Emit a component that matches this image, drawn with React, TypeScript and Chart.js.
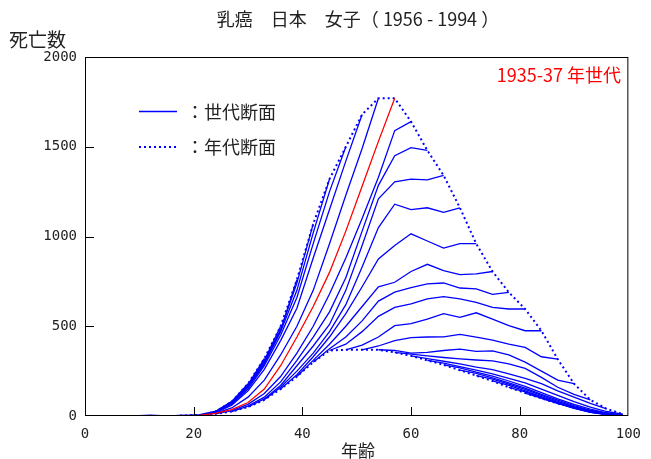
import React, { useEffect, useRef } from "react";
import { Chart, registerables } from "chart.js";

Chart.register(...registerables);

// ---------- text ----------
const TITLE = "乳癌　日本　女子（ 1956 - 1994 ）";
const Y_LABEL = "死亡数";
const X_LABEL = "年齢";
const COHORT_LABEL = "1935-37 年世代";
const LEGEND_SOLID = "：世代断面";
const LEGEND_DOTTED = "：年代断面";

// ---------- axes ----------
const X_TICKS = [0, 20, 40, 60, 80, 100];
const Y_TICKS = [0, 500, 1000, 1500, 2000];
const AGE_STEP = 3; // age groups every 3 years, periods every 3 years
const FIRST_PERIOD = 1956;
const HIGHLIGHT_COHORT = 1935;

// ---------- period cross-sections (ages 0,3,...,99) ----------
const period1956 = [0, 0, 0, 0, 0, 0, 1, 4, 12, 25, 50, 90, 150, 220, 300, 365, 369, 369, 369, 355, 335, 310, 285, 255, 225, 195, 160, 128, 98, 70, 48, 28, 12, 3];
const period1994 = [0, 0, 0, 0, 0, 0, 1, 5, 25, 80, 180, 320, 500, 760, 1070, 1320, 1500, 1680, 1770, 1770, 1640, 1480, 1340, 1160, 960, 805, 689, 596, 475, 317, 180, 90, 40, 10];

// ---------- cohort cross-sections: values from age (1956 - birth) every 3 years ----------
const born1968 = [0, 0, 0, 0, 0, 0, 0, 0, 0, 0, 1, 5, 25];
const born1965 = [0, 0, 0, 0, 0, 0, 0, 0, 0, 1, 5, 25, 80];
const born1962 = [0, 0, 0, 0, 0, 0, 0, 0, 1, 5, 24, 80, 180];
const born1959 = [0, 0, 0, 0, 0, 0, 0, 1, 4, 23, 78, 175, 320];
const born1956 = [0, 0, 0, 0, 0, 0, 2, 4, 22, 75, 170, 310, 500];
const born1953 = [0, 0, 0, 0, 0, 2, 4, 22, 75, 165, 300, 480, 760];
const born1950 = [0, 0, 0, 0, 2, 4, 22, 75, 165, 300, 480, 740, 1070];
const born1947 = [0, 5, 0, 2, 4, 20, 70, 160, 290, 470, 700, 1020, 1320];
const born1944 = [0, 0, 3, 4, 20, 65, 150, 280, 450, 660, 960, 1250, 1500];
const born1941 = [0, 3, 4, 18, 60, 140, 260, 420, 600, 880, 1150, 1420, 1680];
const born1938 = [2, 4, 15, 45, 105, 200, 340, 500, 700, 960, 1230, 1490, 1770];
const born1935 = [4, 15, 35, 75, 150, 280, 440, 610, 800, 1030, 1280, 1530, 1770];
const born1932 = [12, 30, 65, 125, 220, 350, 500, 680, 880, 1100, 1330, 1590, 1640];
const born1929 = [25, 55, 105, 190, 310, 440, 580, 770, 1030, 1285, 1450, 1495, 1480];
const born1926 = [50, 95, 170, 280, 390, 510, 700, 950, 1210, 1305, 1320, 1315, 1340];
const born1923 = [90, 160, 250, 350, 470, 620, 830, 1050, 1180, 1150, 1160, 1135, 1160];
const born1920 = [150, 230, 330, 440, 570, 720, 875, 950, 1015, 975, 935, 960, 960];
const born1917 = [220, 310, 400, 500, 610, 720, 745, 805, 845, 810, 788, 792, 805];
const born1914 = [300, 375, 440, 530, 640, 690, 715, 736, 741, 713, 708, 678, 689];
const born1911 = [365, 400, 470, 555, 605, 624, 652, 665, 652, 633, 605, 596, 596];
const born1908 = [369, 395, 440, 503, 515, 540, 570, 550, 575, 540, 503, 475, 475];
const born1905 = [369, 390, 420, 437, 440, 441, 455, 440, 423, 400, 382, 330, 317];
const born1902 = [369, 365, 350, 354, 365, 372, 360, 363, 340, 300, 250, 200, 180];
const born1899 = [355, 345, 335, 326, 318, 312, 307, 290, 265, 215, 160, 121, 90];
const born1896 = [335, 320, 305, 290, 272, 258, 235, 210, 180, 140, 105, 70, 40];
const born1893 = [310, 295, 275, 255, 235, 210, 185, 150, 115, 80, 50, 25, 10];
const born1890 = [285, 268, 245, 222, 195, 165, 130, 95, 65, 38, 18, 6];
const born1887 = [255, 237, 212, 185, 155, 120, 88, 58, 32, 14, 4];
const born1884 = [225, 205, 178, 148, 115, 82, 52, 28, 12, 3];
const born1881 = [195, 170, 140, 108, 76, 48, 25, 10, 3];
const born1878 = [160, 135, 102, 72, 44, 22, 9, 2];
const born1875 = [128, 100, 70, 42, 20, 8, 2];
const born1872 = [98, 72, 45, 22, 8, 2];
const born1869 = [70, 50, 25, 9, 2];
const born1866 = [48, 30, 12, 3];
const born1863 = [28, 15, 4];
const born1860 = [12, 5];

const cohortBirthYears = [1968, 1965, 1962, 1959, 1956, 1953, 1950, 1947, 1944, 1941, 1938, 1935, 1932, 1929, 1926, 1923, 1920, 1917, 1914, 1911, 1908, 1905, 1902, 1899, 1896, 1893, 1890, 1887, 1884, 1881, 1878, 1875, 1872, 1869, 1866, 1863, 1860];
const cohortSeries = [born1968, born1965, born1962, born1959, born1956, born1953, born1950, born1947, born1944, born1941, born1938, born1935, born1932, born1929, born1926, born1923, born1920, born1917, born1914, born1911, born1908, born1905, born1902, born1899, born1896, born1893, born1890, born1887, born1884, born1881, born1878, born1875, born1872, born1869, born1866, born1863, born1860];

const BLUE = "#0000ff";
const RED = "#ff0000";
const TEXT = "#222222";
const CJK = '"Noto Sans CJK JP", "Noto Sans", sans-serif';
const MONO = '"DejaVu Sans Mono", "Liberation Mono", monospace';

function toPoints(startAge: number, values: number[]) {
  return values
    .map((v, i) => ({ x: startAge + i * AGE_STEP, y: v }))
    .filter((p) => p.x >= 0 && p.x <= 100);
}

const decor = {
  id: "decor",
  afterDraw(chart: any) {
    const { ctx, chartArea: a, scales } = chart;
    ctx.save();
    // frame
    ctx.strokeStyle = "#000";
    ctx.lineWidth = 1;
    ctx.setLineDash([]);
    ctx.strokeRect(a.left + 0.5, a.top + 0.5, a.right - a.left - 1, a.bottom - a.top - 1);
    // inward ticks
    ctx.beginPath();
    X_TICKS.slice(1, -1).forEach((v) => {
      const x = Math.round(scales.x.getPixelForValue(v)) + 0.5;
      ctx.moveTo(x, a.bottom);
      ctx.lineTo(x, a.bottom - 9);
    });
    Y_TICKS.slice(1, -1).forEach((v) => {
      const y = Math.round(scales.y.getPixelForValue(v)) + 0.5;
      ctx.moveTo(a.left, y);
      ctx.lineTo(a.left + 9, y);
    });
    ctx.stroke();

    // texts
    ctx.fillStyle = TEXT;
    ctx.textBaseline = "middle";
    ctx.textAlign = "center";
    ctx.font = `18px ${CJK}`;
    ctx.fillText(TITLE, 358, 19);
    ctx.font = `17px ${CJK}`;
    ctx.fillText(X_LABEL, 358, 451);
    ctx.textAlign = "left";
    ctx.font = `19px ${CJK}`;
    ctx.fillText(Y_LABEL, 9, 40);

    // cohort label
    ctx.fillStyle = RED;
    ctx.textAlign = "right";
    ctx.font = `18px ${CJK}`;
    ctx.fillText(COHORT_LABEL, 621, 75);

    // legend
    ctx.strokeStyle = BLUE;
    ctx.lineWidth = 1.5;
    ctx.beginPath();
    ctx.moveTo(139, 111.5);
    ctx.lineTo(177, 111.5);
    ctx.stroke();
    ctx.lineWidth = 2;
    ctx.setLineDash([2, 3]);
    ctx.beginPath();
    ctx.moveTo(139, 147);
    ctx.lineTo(177, 147);
    ctx.stroke();
    ctx.setLineDash([]);
    ctx.fillStyle = TEXT;
    ctx.textAlign = "left";
    ctx.font = `18px ${CJK}`;
    ctx.fillText(LEGEND_SOLID, 186, 112);
    ctx.fillText(LEGEND_DOTTED, 186, 147);
    ctx.restore();
  },
};

export default function App() {
  const ref = useRef<HTMLCanvasElement>(null);

  useEffect(() => {
    const canvas = ref.current;
    if (!canvas) return;
    const datasets: any[] = [];
    const lineBase = {
      showLine: true,
      pointRadius: 0,
      pointHoverRadius: 0,
      tension: 0,
      fill: false,
    };
    // highlighted cohort first (drawn on top)
    cohortBirthYears.forEach((b, i) => {
      if (b !== HIGHLIGHT_COHORT) return;
      datasets.push({
        ...lineBase,
        label: `${b}`,
        data: toPoints(FIRST_PERIOD - b, cohortSeries[i]),
        borderColor: RED,
        borderWidth: 1.3,
      });
    });
    // period (dotted) cross-sections
    [period1956, period1994].forEach((vals, i) => {
      datasets.push({
        ...lineBase,
        label: i === 0 ? "1956" : "1994",
        data: toPoints(0, vals),
        borderColor: BLUE,
        borderWidth: 2,
        borderDash: [2, 3],
      });
    });
    // cohort (solid) cross-sections
    cohortBirthYears.forEach((b, i) => {
      if (b === HIGHLIGHT_COHORT) return;
      datasets.push({
        ...lineBase,
        label: `${b}`,
        data: toPoints(FIRST_PERIOD - b, cohortSeries[i]),
        borderColor: BLUE,
        borderWidth: 1.3,
      });
    });

    const chart = new Chart(canvas, {
      type: "scatter",
      data: { datasets },
      options: {
        responsive: false,
        devicePixelRatio: 1,
        animation: false,
        layout: { padding: { top: 57, right: 21, left: 0, bottom: 0 } },
        plugins: { legend: { display: false }, tooltip: { enabled: false }, title: { display: false } },
        scales: {
          x: {
            type: "linear",
            min: 0,
            max: 100,
            grid: { display: false, drawTicks: false },
            border: { display: false },
            ticks: {
              stepSize: 20,
              padding: 10,
              color: TEXT,
              font: { family: MONO, size: 14 },
              maxRotation: 0,
              callback: (v: any) => String(v),
            },
            afterFit: (s: any) => {
              s.height = 43;
            },
          },
          y: {
            type: "linear",
            min: 0,
            max: 2000,
            grid: { display: false, drawTicks: false },
            border: { display: false },
            ticks: {
              stepSize: 500,
              padding: 8,
              color: TEXT,
              font: { family: MONO, size: 14 },
              callback: (v: any) => String(v),
            },
            afterFit: (s: any) => {
              s.width = 85;
            },
          },
        },
      } as any,
      plugins: [decor],
    });
    return () => chart.destroy();
  }, []);

  return (
    <div style={{ position: "absolute", left: 0, top: 0, width: 651, height: 459, background: "#fff" }}>
      <canvas ref={ref} width={651} height={459} style={{ display: "block", width: 651, height: 459 }} />
    </div>
  );
}
